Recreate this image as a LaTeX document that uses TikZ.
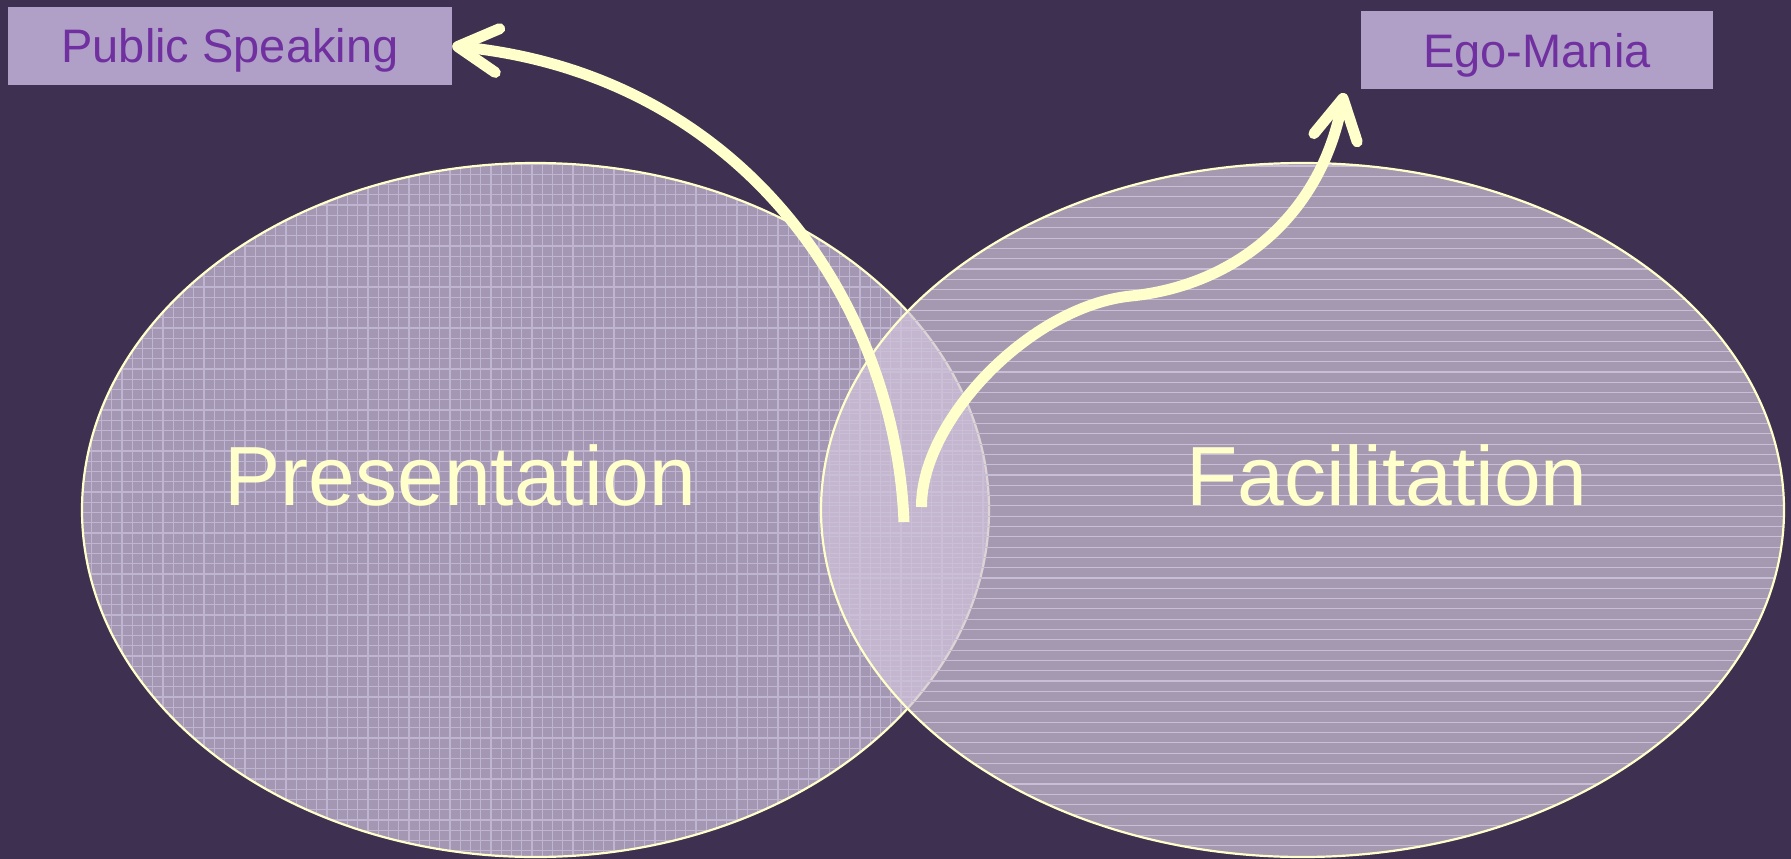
\documentclass[tikz,border=0pt]{standalone}
\usepackage{fontspec}
\setmainfont{Liberation Sans}
\usetikzlibrary{arrows.meta}
\definecolor{bgcol}{RGB}{62,48,80}
\definecolor{leftfill}{RGB}{164,151,180}
\definecolor{leftgrid}{RGB}{192,181,208}
\definecolor{rightfill}{RGB}{208,195,218}
\definecolor{rightline}{RGB}{200,190,214}
\definecolor{boxfill}{RGB}{176,160,200}
\definecolor{boxtext}{RGB}{112,48,160}
\definecolor{cream}{RGB}{255,255,204}
\begin{document}
\begin{tikzpicture}[x=1pt,y=-1pt,
  labelbox/.style={fill=boxfill, inner sep=0pt, minimum height=78pt, text height=34pt, text depth=0pt, text=boxtext, font=\fontsize{47}{56}\selectfont},
  bigtext/.style={inner sep=0pt, anchor=base, text=cream, font=\fontsize{84}{100}\selectfont},
  gridline/.style={leftgrid, line width=1.1pt},
  hline/.style={rightline, line width=1.1pt},
  outline/.style={cream, line width=2.2pt},
  bigarrow/.style={cream, line width=11pt, -{Straight Barb[length=40pt,width=44pt,round]}}]
\useasboundingbox (0,0) rectangle (1791,859);
\fill[bgcol] (0,0) rectangle (1791,859);
% left ellipse
\fill[leftfill] (535.5,510) ellipse [x radius=453.5, y radius=347];
\begin{scope}
  \clip (535.5,510) ellipse [x radius=453.5, y radius=347];
  \foreach \i in {0,...,90} \draw[gridline] ({81+10.25*\i},160) -- ++(0,700);
  \foreach \i in {0,...,69} \draw[gridline] (80,{164+10.25*\i}) -- (990,{164+10.25*\i});
\end{scope}
\draw[outline] (535.5,510) ellipse [x radius=453.5, y radius=347];
% right ellipse
\fill[rightfill, fill opacity=0.71] (1302.5,510) ellipse [x radius=481.5, y radius=347];
\begin{scope}
  \clip (1302.5,510) ellipse [x radius=481.5, y radius=347];
  \foreach \i in {0,...,69} \draw[hline] (820,{166+10.3*\i}) -- (1786,{166+10.3*\i});
\end{scope}
\draw[outline] (1302.5,510) ellipse [x radius=481.5, y radius=347];
% texts
\node[bigtext] (pres) at (460.5,505) {Presentation};
\node[bigtext] (facil) at (1387,505) {Facilitation};
\node[labelbox, minimum width=444pt] (ps) at (230,46) {Public Speaking};
\node[labelbox, minimum width=352pt] (ego) at (1537,50) {Ego-Mania};
% arrows
\coordinate (psStart) at (904,522);
\coordinate (egoStart) at (921.5,507);
\coordinate (egoTip) at (1344,93);
\draw[bigarrow] (psStart) .. controls (895,300) and (740,75) .. (ps.east);
\draw[bigarrow] (egoStart) .. controls (921,420) and (1031,306) .. (1131,296) .. controls (1231,286) and (1320,220) .. (egoTip);
\end{tikzpicture}
\end{document}
